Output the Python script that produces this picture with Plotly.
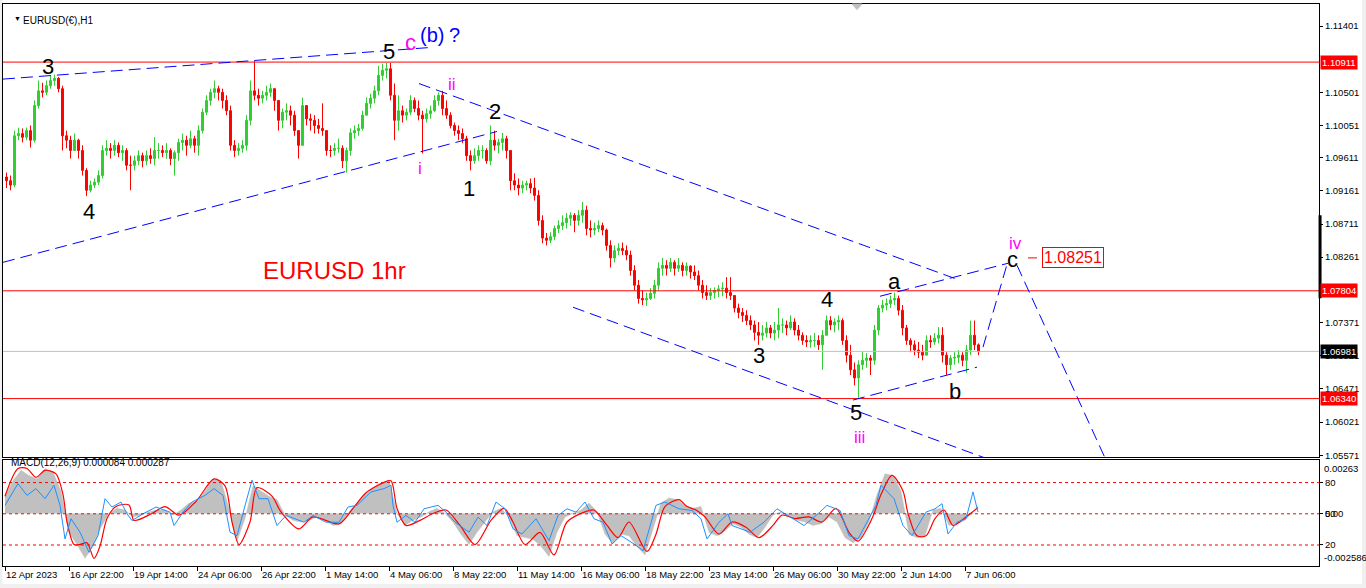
import plotly.graph_objects as go

# ---------------- price data (EURUSD H1 chart, read in 4-hour blocks) ----------------
bar_start_hour = list(range(0, 976, 4))
first_open = 1.0935
high = [
    1.0941, 1.0937, 1.0998, 1.1002, 1.1001, 1.1002, 1.1005, 1.1039, 1.1066, 1.1063,
    1.1066, 1.1073, 1.1074, 1.1071, 1.1059, 1.0998, 1.0991, 1.0994, 1.0987, 1.0978,
    1.0947, 1.0930, 1.0933, 1.0944, 1.0978, 1.0985, 1.0981, 1.0985, 1.0982, 1.0978,
    1.0974, 1.0964, 1.0964, 1.0971, 1.0968, 1.0971, 1.0974, 1.0989, 1.0981, 1.0978,
    1.0981, 1.0974, 1.0971, 1.0987, 1.0994, 1.0991, 1.0998, 1.0991, 1.1005, 1.1028,
    1.1046, 1.1055, 1.1066, 1.1059, 1.1055, 1.1046, 1.1032, 1.0985, 1.0981, 1.0985,
    1.1019, 1.1066, 1.1093, 1.1055, 1.1052, 1.1059, 1.1062, 1.1055, 1.1039, 1.1028,
    1.1035, 1.1032, 1.1025, 1.0998, 1.1043, 1.1032, 1.1021, 1.1019, 1.1014, 1.1035,
    1.0998, 1.0978, 1.0981, 1.0987, 1.0978, 1.0975, 1.1001, 1.1005, 1.1007, 1.1025,
    1.1043, 1.1048, 1.1059, 1.1086, 1.1089, 1.1090, 1.1090, 1.1062, 1.1046, 1.1032,
    1.1028, 1.1046, 1.1043, 1.1039, 1.1025, 1.1028, 1.1032, 1.1046, 1.1050, 1.1052,
    1.1039, 1.1023, 1.1009, 1.1005, 1.1001, 1.0991, 1.0971, 1.0974, 1.0978, 1.0978,
    1.0974, 1.1005, 1.0998, 1.0987, 1.0995, 1.0991, 1.0971, 1.0940, 1.0933, 1.0930,
    1.0930, 1.0933, 1.0934, 1.0917, 1.0883, 1.0859, 1.0860, 1.0869, 1.0876, 1.0883,
    1.0886, 1.0887, 1.0886, 1.0890, 1.0901, 1.0896, 1.0876, 1.0873, 1.0876, 1.0873,
    1.0865, 1.0849, 1.0842, 1.0845, 1.0846, 1.0842, 1.0835, 1.0815, 1.0795, 1.0781,
    1.0778, 1.0784, 1.0795, 1.0819, 1.0825, 1.0822, 1.0825, 1.0822, 1.0825, 1.0819,
    1.0819, 1.0815, 1.0815, 1.0808, 1.0795, 1.0788, 1.0784, 1.0785, 1.0788, 1.0792,
    1.0799, 1.0799, 1.0774, 1.0763, 1.0757, 1.0754, 1.0747, 1.0740, 1.0738, 1.0734,
    1.0738, 1.0734, 1.0738, 1.0757, 1.0743, 1.0740, 1.0747, 1.0743, 1.0734, 1.0724,
    1.0720, 1.0720, 1.0723, 1.0720, 1.0727, 1.0747, 1.0746, 1.0743, 1.0747, 1.0743,
    1.0720, 1.0707, 1.0683, 1.0686, 1.0697, 1.0696, 1.0693, 1.0734, 1.0761, 1.0768,
    1.0770, 1.0774, 1.0778, 1.0774, 1.0761, 1.0734, 1.0716, 1.0713, 1.0711, 1.0707,
    1.0720, 1.0720, 1.0723, 1.0731, 1.0731, 1.0697, 1.0693, 1.0697, 1.0700, 1.0697,
    1.0707, 1.0740, 1.0740, 1.0709,
]
low = [
    1.0920, 1.0917, 1.0921, 1.0985, 1.0982, 1.0985, 1.0975, 1.0982, 1.1028, 1.1043,
    1.1046, 1.1055, 1.1059, 1.1050, 1.0971, 1.0974, 1.0960, 1.0971, 1.0960, 1.0937,
    1.0909, 1.0914, 1.0920, 1.0924, 1.0933, 1.0964, 1.0960, 1.0964, 1.0962, 1.0957,
    1.0944, 1.0917, 1.0944, 1.0951, 1.0948, 1.0951, 1.0953, 1.0951, 1.0960, 1.0962,
    1.0960, 1.0951, 1.0937, 1.0957, 1.0971, 1.0964, 1.0974, 1.0968, 1.0964, 1.0994,
    1.1019, 1.1032, 1.1042, 1.1039, 1.1028, 1.1019, 1.0971, 1.0962, 1.0964, 1.0968,
    1.0971, 1.1005, 1.1039, 1.1032, 1.1035, 1.1039, 1.1044, 1.1025, 1.0998, 1.1001,
    1.1012, 1.1005, 1.0991, 1.0960, 1.0978, 1.1005, 1.0998, 1.0994, 1.0994, 1.0991,
    1.0964, 1.0962, 1.0964, 1.0968, 1.0947, 1.0941, 1.0964, 1.0987, 1.0991, 1.0998,
    1.1019, 1.1028, 1.1035, 1.1046, 1.1066, 1.1069, 1.1039, 1.0985, 1.0998, 1.1009,
    1.1012, 1.1019, 1.1023, 1.1012, 1.0967, 1.1009, 1.1014, 1.1023, 1.1032, 1.1019,
    1.1014, 1.1001, 1.0991, 1.0985, 1.0981, 1.0957, 1.0944, 1.0953, 1.0957, 1.0960,
    1.0953, 1.0951, 1.0971, 1.0967, 1.0971, 1.0960, 1.0917, 1.0917, 1.0910, 1.0913,
    1.0917, 1.0913, 1.0903, 1.0869, 1.0845, 1.0842, 1.0845, 1.0849, 1.0859, 1.0863,
    1.0865, 1.0869, 1.0860, 1.0869, 1.0873, 1.0856, 1.0853, 1.0856, 1.0860, 1.0856,
    1.0835, 1.0812, 1.0819, 1.0829, 1.0829, 1.0822, 1.0801, 1.0781, 1.0763, 1.0761,
    1.0760, 1.0768, 1.0770, 1.0781, 1.0801, 1.0801, 1.0806, 1.0801, 1.0806, 1.0800,
    1.0801, 1.0797, 1.0795, 1.0781, 1.0770, 1.0768, 1.0768, 1.0770, 1.0772, 1.0773,
    1.0770, 1.0768, 1.0751, 1.0743, 1.0738, 1.0734, 1.0727, 1.0713, 1.0707, 1.0713,
    1.0717, 1.0716, 1.0713, 1.0716, 1.0723, 1.0720, 1.0727, 1.0720, 1.0713, 1.0707,
    1.0704, 1.0703, 1.0704, 1.0700, 1.0673, 1.0720, 1.0727, 1.0724, 1.0727, 1.0707,
    1.0683, 1.0666, 1.0652, 1.0635, 1.0673, 1.0676, 1.0666, 1.0680, 1.0720, 1.0751,
    1.0754, 1.0757, 1.0761, 1.0747, 1.0720, 1.0707, 1.0697, 1.0693, 1.0689, 1.0686,
    1.0693, 1.0703, 1.0707, 1.0709, 1.0683, 1.0666, 1.0673, 1.0680, 1.0682, 1.0678,
    1.0669, 1.0693, 1.0700, 1.0693,
]
close = [
    1.0930, 1.0924, 1.0991, 1.0994, 1.0989, 1.0998, 1.0985, 1.1032, 1.1052, 1.1050,
    1.1059, 1.1066, 1.1069, 1.1055, 1.0991, 1.0985, 1.0971, 1.0985, 1.0971, 1.0944,
    1.0917, 1.0924, 1.0928, 1.0937, 1.0971, 1.0974, 1.0971, 1.0978, 1.0968, 1.0971,
    1.0951, 1.0951, 1.0957, 1.0964, 1.0957, 1.0964, 1.0960, 1.0971, 1.0971, 1.0968,
    1.0971, 1.0960, 1.0968, 1.0982, 1.0985, 1.0978, 1.0987, 1.0978, 1.0998, 1.1023,
    1.1039, 1.1050, 1.1055, 1.1050, 1.1039, 1.1025, 1.0978, 1.0971, 1.0974, 1.0978,
    1.1012, 1.1052, 1.1046, 1.1042, 1.1046, 1.1050, 1.1055, 1.1039, 1.1012, 1.1023,
    1.1025, 1.1019, 1.0998, 1.0978, 1.1032, 1.1014, 1.1012, 1.1005, 1.1001, 1.0998,
    1.0971, 1.0971, 1.0974, 1.0974, 1.0957, 1.0971, 1.0995, 1.0998, 1.1001, 1.1019,
    1.1035, 1.1042, 1.1052, 1.1073, 1.1080, 1.1082, 1.1046, 1.1012, 1.1025, 1.1019,
    1.1023, 1.1039, 1.1028, 1.1019, 1.1014, 1.1021, 1.1025, 1.1039, 1.1046, 1.1028,
    1.1019, 1.1005, 1.0998, 1.0994, 1.0987, 1.0964, 1.0957, 1.0964, 1.0971, 1.0971,
    1.0957, 1.0985, 1.0978, 1.0982, 1.0987, 1.0971, 1.0930, 1.0924, 1.0920, 1.0924,
    1.0926, 1.0920, 1.0910, 1.0876, 1.0852, 1.0849, 1.0854, 1.0865, 1.0869, 1.0873,
    1.0879, 1.0883, 1.0876, 1.0883, 1.0890, 1.0865, 1.0863, 1.0865, 1.0869, 1.0863,
    1.0842, 1.0825, 1.0835, 1.0838, 1.0835, 1.0829, 1.0808, 1.0788, 1.0770, 1.0768,
    1.0770, 1.0777, 1.0788, 1.0811, 1.0815, 1.0811, 1.0819, 1.0811, 1.0815, 1.0808,
    1.0814, 1.0806, 1.0801, 1.0788, 1.0778, 1.0774, 1.0778, 1.0781, 1.0783, 1.0784,
    1.0778, 1.0774, 1.0757, 1.0751, 1.0747, 1.0740, 1.0734, 1.0724, 1.0720, 1.0723,
    1.0730, 1.0723, 1.0727, 1.0734, 1.0734, 1.0730, 1.0738, 1.0727, 1.0720, 1.0713,
    1.0711, 1.0713, 1.0713, 1.0707, 1.0720, 1.0740, 1.0734, 1.0738, 1.0740, 1.0713,
    1.0693, 1.0673, 1.0662, 1.0680, 1.0686, 1.0689, 1.0686, 1.0727, 1.0757, 1.0761,
    1.0763, 1.0768, 1.0770, 1.0754, 1.0730, 1.0713, 1.0707, 1.0700, 1.0697, 1.0693,
    1.0713, 1.0711, 1.0716, 1.0720, 1.0693, 1.0680, 1.0689, 1.0690, 1.0693, 1.0686,
    1.0700, 1.0720, 1.0707, 1.0698,
]

time_tick_hours = [0, 64, 128, 192, 256, 320, 384, 448, 512, 576, 640, 704, 768, 832, 896, 960]
time_tick_labels = ["12 Apr 2023", "16 Apr 22:00", "19 Apr 14:00", "24 Apr 06:00", "26 Apr 22:00",
                    "1 May 14:00", "4 May 06:00", "8 May 22:00", "11 May 14:00", "16 May 06:00",
                    "18 May 22:00", "23 May 14:00", "26 May 06:00", "30 May 22:00", "2 Jun 14:00",
                    "7 Jun 06:00"]
price_ticks = [1.11401, 1.10501, 1.10051, 1.09611, 1.09161, 1.08711, 1.08261,
               1.07371, 1.06921, 1.06471, 1.06021, 1.05571]

red_levels = [1.10911, 1.07804, 1.06340]
bid_price = 1.06981
target_price = 1.08251

# ---------------- MACD pane ----------------
macd_hours = list(range(0, 976, 8))
macd_main = [
    0.00085, 0.00161, 0.00212, 0.00187, 0.00170, 0.00221, 0.00204, 0.00110, -0.00093, -0.00153,
    -0.00221, -0.00161, -0.00068, 0.00000, 0.00025, 0.00017, -0.00017, -0.00008, 0.00008, 0.00017,
    0.00017, -0.00008, 0.00017, 0.00051, 0.00059, 0.00110, 0.00170, 0.00161, 0.00025, -0.00136,
    -0.00025, 0.00136, 0.00110, 0.00085, 0.00068, -0.00008, -0.00034, -0.00042, -0.00034, -0.00017,
    -0.00034, -0.00059, -0.00051, 0.00008, 0.00051, 0.00093, 0.00127, 0.00144, 0.00165, 0.00000,
    -0.00059, -0.00034, -0.00017, 0.00008, 0.00025, 0.00000, -0.00042, -0.00102, -0.00153, -0.00093,
    -0.00042, 0.00008, 0.00025, -0.00017, -0.00110, -0.00119, -0.00127, -0.00161, -0.00212, -0.00093,
    -0.00017, 0.00000, 0.00017, 0.00051, 0.00008, -0.00102, -0.00148, -0.00102, -0.00110, -0.00161,
    -0.00204, -0.00076, 0.00051, 0.00076, 0.00068, 0.00042, 0.00025, 0.00034, -0.00093, -0.00110,
    -0.00085, -0.00051, -0.00068, -0.00102, -0.00119, -0.00068, -0.00008, 0.00008, -0.00017, -0.00034,
    -0.00042, -0.00059, -0.00051, -0.00017, -0.00042, -0.00119, -0.00144, -0.00119, -0.00042, 0.00093,
    0.00195, 0.00187, 0.00110, -0.00102, -0.00119, -0.00110, 0.00017, 0.00025, -0.00059, -0.00051,
    -0.00034, 0.000084,
]
signal_hours = [0, 13, 22, 31, 40, 51, 58, 62, 69, 75, 82, 89, 95, 102, 111, 124, 129, 147, 160, 174,
                191, 209, 220, 227, 234, 245, 252, 267, 276, 294, 308, 334, 348, 361, 379, 386, 392, 401,
                415, 428, 441, 455, 470, 486, 499, 508, 520, 535, 549, 562, 580, 589, 602, 613, 624, 642,
                651, 660, 674, 682, 691, 700, 714, 727, 741, 754, 768, 777, 790, 804, 817, 831, 844, 853,
                867, 876, 887, 898, 903, 912, 921, 930, 939, 948, 961, 973]
signal_vals = [0.00085, 0.00221, 0.00221, 0.00178, 0.00212, 0.00195, 0.00093, -0.00042, -0.00153, -0.00153,
               -0.00144, -0.00221, -0.00161, -0.00025, 0.00034, 0.00042, -0.00034, 0.00000, 0.00034, -0.00008,
               0.00059, 0.00170, 0.00136, -0.00042, -0.00153, -0.00042, 0.00127, 0.00085, 0.00008, -0.00076,
               -0.00017, -0.00051, 0.00025, 0.00102, 0.00153, 0.00161, 0.00025, -0.00059, -0.00034, 0.00000,
               0.00017, -0.00059, -0.00153, -0.00034, 0.00025, -0.00042, -0.00153, -0.00093, -0.00204, -0.00042,
               0.00008, 0.00017, -0.00059, -0.00119, -0.00042, -0.00187, -0.00102, 0.00034, 0.00068, 0.00034,
               0.00017, -0.00017, -0.00102, -0.00042, -0.00068, -0.00119, -0.00059, -0.00008, -0.00025, -0.00017,
               -0.00042, 0.00025, -0.00093, -0.00136, -0.00025, 0.00093, 0.00187, 0.00110, 0.00000, -0.00110,
               -0.00110, -0.00025, 0.00017, -0.00059, -0.00017, 0.00029]
osc_hours = [0, 8, 13, 22, 31, 40, 49, 55, 60, 66, 75, 84, 93, 100, 107, 116, 122, 127, 138, 151,
             165, 169, 178, 187, 200, 209, 218, 225, 232, 241, 247, 254, 263, 272, 281, 290, 299, 308,
             321, 334, 343, 352, 366, 379, 386, 388, 392, 401, 410, 419, 433, 441, 450, 464, 473, 482,
             491, 500, 508, 517, 531, 544, 553, 562, 571, 580, 589, 598, 607, 616, 629, 638, 651, 660,
             674, 687, 696, 702, 714, 723, 727, 745, 759, 772, 786, 799, 813, 822, 835, 844, 853, 862,
             871, 876, 889, 898, 907, 921, 930, 937, 943, 952, 961, 968, 973]
osc_vals = [58.1, 71.0, 79.0, 67.7, 74.2, 64.5, 77.4, 58.1, 25.8, 45.2,
            32.3, 12.9, 29.0, 64.5, 56.5, 61.3, 50.0, 43.5, 50.0, 56.5,
            51.6, 38.7, 51.6, 61.3, 67.7, 74.2, 67.7, 32.3, 29.0, 61.3,
            82.3, 64.5, 64.5, 38.7, 48.4, 45.2, 41.9, 48.4, 41.9, 41.9,
            56.5, 58.1, 71.0, 74.2, 77.4, 58.1, 41.9, 48.4, 41.9, 54.8,
            58.1, 51.6, 41.9, 32.3, 46.8, 38.7, 61.3, 54.8, 35.5, 30.6,
            45.2, 24.2, 48.4, 54.8, 51.6, 61.3, 45.2, 41.9, 21.0, 29.0,
            21.0, 14.5, 58.1, 61.3, 54.8, 53.2, 45.2, 25.8, 41.9, 50.0,
            38.7, 32.3, 41.9, 54.8, 46.8, 38.7, 50.0, 58.1, 53.2, 29.0,
            25.8, 41.9, 58.1, 77.4, 64.5, 38.7, 29.0, 51.6, 54.8, 59.7,
            30.6, 41.9, 45.2, 71.0, 51.6]
osc_levels = [80, 50, 20]

# ---------------- analysis drawings (hour, price) ----------------
trend_lines = [
    (-2, 1.10680, 423, 1.11107),
    (-2, 1.08191, 492, 1.09968),
    (414, 1.10619, 952, 1.07961),
    (568, 1.07581, 980, 1.05534),
    (875, 1.07730, 1003, 1.08178),
    (848, 1.06320, 972, 1.06767),
    (978, 1.07039, 1003, 1.08210),
    (1012, 1.08151, 1100, 1.05534),
]
wave_labels = [
    ("3", 43, 1.10849, "black", 22), ("4", 84, 1.08883, "black", 22),
    ("5", 384, 1.11052, "black", 22), ("c", 405, 1.11180, "#FF00FF", 22),
    ("(b)", 427, 1.11280, "#0000FF", 20), ("?", 449, 1.11280, "#0000FF", 20),
    ("ii", 447, 1.10605, "#FF00FF", 17), ("2", 490, 1.10239, "black", 22),
    ("i", 415, 1.09466, "#FF00FF", 17), ("1", 464, 1.09195, "black", 22),
    ("3", 754, 1.06930, "black", 22), ("4", 822, 1.07690, "black", 22),
    ("5", 851, 1.06157, "black", 22), ("iii", 854, 1.05818, "#FF00FF", 17),
    ("a", 889, 1.07930, "black", 22), ("b", 950, 1.06440, "black", 22),
    ("c", 1007, 1.08230, "black", 22), ("iv", 1010, 1.08440, "#FF00FF", 17),
]

FONT = "Liberation Sans, Arial, sans-serif"
AX = 9.5
opens = [first_open] + close[:-1]
bar_x = [h + 1.5 for h in bar_start_hour]

fig = go.Figure()
fig.add_trace(go.Candlestick(
    x=bar_x, open=opens, high=high, low=low, close=close,
    increasing=dict(line=dict(color="#32CD32", width=1), fillcolor="#32CD32"),
    decreasing=dict(line=dict(color="#FF0000", width=1), fillcolor="#FF0000"),
    whiskerwidth=0, showlegend=False, hoverinfo="skip", xaxis="x", yaxis="y"))
fig.add_trace(go.Scatter(x=macd_hours, y=macd_main, mode="lines", fill="tozeroy",
                         fillcolor="#C0C0C0", line=dict(color="#C0C0C0", width=0.5),
                         showlegend=False, hoverinfo="skip", xaxis="x2", yaxis="y2"))
fig.add_trace(go.Scatter(x=osc_hours, y=osc_vals, mode="lines",
                         line=dict(color="#1E90FF", width=1),
                         showlegend=False, hoverinfo="skip", xaxis="x2", yaxis="y3"))
fig.add_trace(go.Scatter(x=signal_hours, y=signal_vals, mode="lines",
                         line=dict(color="#FF0000", width=1.2, shape="spline", smoothing=0.8),
                         showlegend=False, hoverinfo="skip", xaxis="x2", yaxis="y2"))

shapes = []
for lvl in red_levels:
    shapes.append(dict(type="line", xref="x domain", yref="y", x0=0, x1=1, y0=lvl, y1=lvl,
                       line=dict(color="#FF0000", width=1)))
shapes.append(dict(type="line", xref="x domain", yref="y", x0=0, x1=1, y0=bid_price, y1=bid_price,
                   line=dict(color="#C0C0C0", width=1)))
for lvl in osc_levels:
    shapes.append(dict(type="line", xref="x2 domain", yref="y3", x0=0, x1=1, y0=lvl, y1=lvl,
                       line=dict(color="#FF0000", width=1, dash="3px,3px")))
for (h0, p0, h1, p1) in trend_lines:
    shapes.append(dict(type="line", xref="x", yref="y", x0=h0, y0=p0, x1=h1, y1=p1,
                       line=dict(color="#0000FF", width=1, dash="12px,6px")))
shapes.append(dict(type="line", xref="x", yref="y", x0=1023, x1=1032, y0=target_price, y1=target_price,
                   line=dict(color="#FF0000", width=1)))
# scroll marker on price scale
shapes.append(dict(type="line", xref="paper", yref="y", x0=1.0008, x1=1.0008, y0=1.08829, y1=1.07703,
                   line=dict(color="black", width=3)))
# chart-shift marker
shapes.append(dict(type="path", xref="x", yref="paper", path="M 847,1 L 857,1 L 852,0.99 Z",
                   fillcolor="#C0C0C0", line=dict(color="#C0C0C0", width=1)))
# window frame strips
shapes.append(dict(type="rect", xref="paper", yref="paper", x0=-0.01, x1=1.04, y0=-0.032, y1=-0.05,
                   fillcolor="#F0F0F0", line=dict(width=0), layer="below"))
shapes.append(dict(type="rect", xref="paper", yref="paper", x0=1.0327, x1=1.04, y0=-0.05, y1=1.01,
                   fillcolor="#F0F0F0", line=dict(width=0), layer="below"))
shapes.append(dict(type="rect", xref="paper", yref="paper", x0=-0.01, x1=-0.0004, y0=-0.05, y1=1.01,
                   fillcolor="#F0F0F0", line=dict(width=0), layer="below"))

ann = []
for (txt, h, p, col, sz) in wave_labels:
    ann.append(dict(x=h, y=p, xref="x", yref="y", text=txt, showarrow=False,
                    font=dict(family=FONT, size=sz, color=col)))
ann.append(dict(x=329, y=1.08083, xref="x", yref="y", text="EURUSD 1hr", showarrow=False,
                font=dict(family=FONT, size=24, color="#FF0000")))
ann.append(dict(x=1068, y=target_price, xref="x", yref="y", text="1.08251", showarrow=False,
                font=dict(family=FONT, size=16, color="#FF0000"), bgcolor="white",
                bordercolor="#FF0000", borderwidth=1, borderpad=1))
for lvl in red_levels:
    ann.append(dict(x=1, y=lvl, xref="paper", yref="y", xanchor="left", xshift=1, text=f"{lvl:.5f}",
                    showarrow=False, font=dict(family=FONT, size=AX, color="white"),
                    bgcolor="#FF0000", borderpad=1))
ann.append(dict(x=1, y=bid_price, xref="paper", yref="y", xanchor="left", xshift=1, text=f"{bid_price:.5f}",
                showarrow=False, font=dict(family=FONT, size=AX, color="white"),
                bgcolor="black", borderpad=1))
ann.append(dict(x=0.0068, y=0.984, xref="paper", yref="paper", text="▼", showarrow=False,
                font=dict(family=FONT, size=7, color="black")))
ann.append(dict(x=0.0137, y=0.984, xref="paper", yref="paper", xanchor="left", text="EURUSD(€),H1",
                showarrow=False, font=dict(family=FONT, size=10, color="black")))
ann.append(dict(x=0.0046, y=0.1708, xref="paper", yref="paper", xanchor="left",
                text="MACD(12,26,9) 0.000084 0.000287", showarrow=False,
                font=dict(family=FONT, size=10, color="black")))
ann.append(dict(x=1, y=0.00263, xref="paper", yref="y2", xanchor="left", yanchor="top", xshift=3, yshift=-1,
                text="0.00263", showarrow=False, font=dict(family=FONT, size=AX, color="black")))
ann.append(dict(x=1, y=-0.002586, xref="paper", yref="y2", xanchor="left", yanchor="bottom", xshift=3, yshift=1,
                text="-0.002586", showarrow=False, font=dict(family=FONT, size=AX, color="black")))

axis_common = dict(showline=True, mirror=True, linecolor="black", linewidth=1, showgrid=False,
                   zeroline=False, fixedrange=True)
fig.update_layout(
    width=1366, height=588,
    margin=dict(l=3, r=47, t=4, b=22),
    paper_bgcolor="white", plot_bgcolor="white",
    showlegend=False,
    font=dict(family=FONT, size=AX, color="black"),
    xaxis=dict(domain=[0, 1], range=[-2, 1314], anchor="y", showticklabels=False, ticks="",
               rangeslider=dict(visible=False), **axis_common),
    yaxis=dict(domain=[0.1931, 1], range=[1.0554, 1.1170], side="right", anchor="x",
               tickmode="array", tickvals=price_ticks, tickformat=".5f", ticks="outside",
               ticklen=3, tickcolor="black", tickfont=dict(size=AX), **axis_common),
    xaxis2=dict(domain=[0, 1], range=[-2, 1314], anchor="y2", matches="x", tickmode="array",
                tickvals=time_tick_hours, ticktext=time_tick_labels, ticks="outside", ticklen=4,
                tickcolor="black", tickangle=0, ticklabelposition="outside right",
                tickfont=dict(size=AX), **axis_common),
    yaxis2=dict(domain=[0, 0.1886], range=[-0.002586, 0.00263], side="right", anchor="x2",
                tickmode="array", tickvals=[0], ticktext=["0.00"], ticks="outside", ticklen=3,
                tickcolor="black", tickfont=dict(size=AX), **axis_common),
    yaxis3=dict(overlaying="y2", side="right", anchor="x2", range=[-0.2, 101.7], tickmode="array",
                tickvals=osc_levels, ticks="outside", ticklen=3, tickcolor="black", tickfont=dict(size=AX),
                showgrid=False, zeroline=False, showline=False, fixedrange=True),
    shapes=shapes, annotations=ann,
)

fig.write_html("out.html", config={"displayModeBar": False},
               post_script="document.body.style.margin='0';document.body.style.overflow='hidden';")
